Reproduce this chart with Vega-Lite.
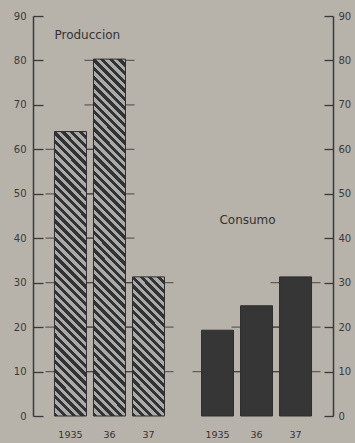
{
  "$schema": "https://vega.github.io/schema/vega-lite/v6.json",
  "width": 300,
  "height": 400,
  "autosize": "none",
  "padding": {"left": 33, "top": 16, "right": 22, "bottom": 27},
  "background": "#b7b2aa",
  "config": {"view": {"stroke": null}, "font": "DejaVu Sans"},
  "datasets": {
    "bars": [
      {"group": "Produccion", "year": "1935", "value": 64.0},
      {"group": "Produccion", "year": "36", "value": 80.3},
      {"group": "Produccion", "year": "37", "value": 31.3},
      {"group": "Consumo", "year": "1935", "value": 19.3},
      {"group": "Consumo", "year": "36", "value": 24.8},
      {"group": "Consumo", "year": "37", "value": 31.3}
    ],
    "grid": [
      {"group": "Produccion", "year": "1935", "level": 10},
      {"group": "Produccion", "year": "1935", "level": 20},
      {"group": "Produccion", "year": "1935", "level": 30},
      {"group": "Produccion", "year": "1935", "level": 40},
      {"group": "Produccion", "year": "1935", "level": 50},
      {"group": "Produccion", "year": "1935", "level": 60},
      {"group": "Produccion", "year": "36", "level": 10},
      {"group": "Produccion", "year": "36", "level": 20},
      {"group": "Produccion", "year": "36", "level": 30},
      {"group": "Produccion", "year": "36", "level": 40},
      {"group": "Produccion", "year": "36", "level": 50},
      {"group": "Produccion", "year": "36", "level": 60},
      {"group": "Produccion", "year": "36", "level": 70},
      {"group": "Produccion", "year": "36", "level": 80},
      {"group": "Produccion", "year": "37", "level": 10},
      {"group": "Produccion", "year": "37", "level": 20},
      {"group": "Produccion", "year": "37", "level": 30},
      {"group": "Consumo", "year": "1935", "level": 10},
      {"group": "Consumo", "year": "36", "level": 10},
      {"group": "Consumo", "year": "36", "level": 20},
      {"group": "Consumo", "year": "37", "level": 10},
      {"group": "Consumo", "year": "37", "level": 20},
      {"group": "Consumo", "year": "37", "level": 30}
    ],
    "names": [
      {"group": "Produccion", "year": "1935", "value": 85.8, "label": "Produccion"},
      {"group": "Consumo", "year": "36", "value": 44, "label": "Consumo"}
    ]
  },
  "encoding": {
    "x": {"field": "group", "type": "nominal", "sort": ["Produccion", "Consumo"],
      "scale": {"paddingInner": 0.2517, "paddingOuter": 0.146},
      "axis": null},
    "xOffset": {"field": "year", "type": "nominal", "sort": ["1935", "36", "37"],
      "scale": {"paddingInner": 0.18, "paddingOuter": 0}}
  },
  "layer": [
    {
      "data": {"name": "grid"},
      "mark": {"type": "tick", "size": 50, "thickness": 1.3, "color": "#3a3a3a"},
      "encoding": {
        "x": {"field": "group", "type": "nominal", "sort": ["Produccion", "Consumo"],
          "scale": {"paddingInner": 0.2517, "paddingOuter": 0.146},
          "axis": {"title": null, "labels": false, "ticks": false, "domainColor": "#3a3a3a", "domainWidth": 1.5}},
        "y": {"field": "level", "type": "quantitative",
          "scale": {"domain": [0, 90], "nice": false},
          "axis": {"orient": "left", "values": [0,10,20,30,40,50,60,70,80,90], "title": null, "grid": false,
            "tickSize": -10, "tickColor": "#3a3a3a", "tickWidth": 1.3,
            "domainColor": "#3a3a3a", "domainWidth": 1.5,
            "labelColor": "#3a3a3a", "labelFontSize": 10, "labelPadding": 17}}
      }
    },
    {
      "data": {"name": "bars"},
      "transform": [{"filter": "datum.group == 'Consumo'"}],
      "mark": {"type": "bar", "color": "#363636", "stroke": "#2e2e2e", "strokeWidth": 1},
      "encoding": {
        "y": {"field": "value", "type": "quantitative",
          "axis": {"orient": "right", "values": [0,10,20,30,40,50,60,70,80,90], "title": null, "grid": false,
            "tickSize": -9, "tickColor": "#3a3a3a", "tickWidth": 1.3,
            "domainColor": "#3a3a3a", "domainWidth": 1.5,
            "labelColor": "#3a3a3a", "labelFontSize": 10, "labelPadding": 14}}
      }
    },
    {
      "data": {"name": "bars"},
      "transform": [{"filter": "datum.group == 'Produccion' && datum.year == '1935'"}],
      "mark": {"type": "bar", "stroke": "#2e2e2e", "strokeWidth": 1,
        "fill": {"gradient": "linear", "x1": 0, "y1": 1, "x2": 0.124, "y2": -0.0989, "stops": [
          {"offset": 0, "color": "#333"},
          {"offset": 0.0139, "color": "#333"}, {"offset": 0.0139, "color": "#aaa"},
          {"offset": 0.0278, "color": "#aaa"}, {"offset": 0.0278, "color": "#333"},
          {"offset": 0.0417, "color": "#333"}, {"offset": 0.0417, "color": "#aaa"},
          {"offset": 0.0556, "color": "#aaa"}, {"offset": 0.0556, "color": "#333"},
          {"offset": 0.0694, "color": "#333"}, {"offset": 0.0694, "color": "#aaa"},
          {"offset": 0.0833, "color": "#aaa"}, {"offset": 0.0833, "color": "#333"},
          {"offset": 0.0972, "color": "#333"}, {"offset": 0.0972, "color": "#aaa"},
          {"offset": 0.1111, "color": "#aaa"}, {"offset": 0.1111, "color": "#333"},
          {"offset": 0.125, "color": "#333"}, {"offset": 0.125, "color": "#aaa"},
          {"offset": 0.1389, "color": "#aaa"}, {"offset": 0.1389, "color": "#333"},
          {"offset": 0.1528, "color": "#333"}, {"offset": 0.1528, "color": "#aaa"},
          {"offset": 0.1667, "color": "#aaa"}, {"offset": 0.1667, "color": "#333"},
          {"offset": 0.1806, "color": "#333"}, {"offset": 0.1806, "color": "#aaa"},
          {"offset": 0.1944, "color": "#aaa"}, {"offset": 0.1944, "color": "#333"},
          {"offset": 0.2083, "color": "#333"}, {"offset": 0.2083, "color": "#aaa"},
          {"offset": 0.2222, "color": "#aaa"}, {"offset": 0.2222, "color": "#333"},
          {"offset": 0.2361, "color": "#333"}, {"offset": 0.2361, "color": "#aaa"},
          {"offset": 0.25, "color": "#aaa"}, {"offset": 0.25, "color": "#333"},
          {"offset": 0.2639, "color": "#333"}, {"offset": 0.2639, "color": "#aaa"},
          {"offset": 0.2778, "color": "#aaa"}, {"offset": 0.2778, "color": "#333"},
          {"offset": 0.2917, "color": "#333"}, {"offset": 0.2917, "color": "#aaa"},
          {"offset": 0.3056, "color": "#aaa"}, {"offset": 0.3056, "color": "#333"},
          {"offset": 0.3194, "color": "#333"}, {"offset": 0.3194, "color": "#aaa"},
          {"offset": 0.3333, "color": "#aaa"}, {"offset": 0.3333, "color": "#333"},
          {"offset": 0.3472, "color": "#333"}, {"offset": 0.3472, "color": "#aaa"},
          {"offset": 0.3611, "color": "#aaa"}, {"offset": 0.3611, "color": "#333"},
          {"offset": 0.375, "color": "#333"}, {"offset": 0.375, "color": "#aaa"},
          {"offset": 0.3889, "color": "#aaa"}, {"offset": 0.3889, "color": "#333"},
          {"offset": 0.4028, "color": "#333"}, {"offset": 0.4028, "color": "#aaa"},
          {"offset": 0.4167, "color": "#aaa"}, {"offset": 0.4167, "color": "#333"},
          {"offset": 0.4306, "color": "#333"}, {"offset": 0.4306, "color": "#aaa"},
          {"offset": 0.4444, "color": "#aaa"}, {"offset": 0.4444, "color": "#333"},
          {"offset": 0.4583, "color": "#333"}, {"offset": 0.4583, "color": "#aaa"},
          {"offset": 0.4722, "color": "#aaa"}, {"offset": 0.4722, "color": "#333"},
          {"offset": 0.4861, "color": "#333"}, {"offset": 0.4861, "color": "#aaa"},
          {"offset": 0.5, "color": "#aaa"}, {"offset": 0.5, "color": "#333"},
          {"offset": 0.5139, "color": "#333"}, {"offset": 0.5139, "color": "#aaa"},
          {"offset": 0.5278, "color": "#aaa"}, {"offset": 0.5278, "color": "#333"},
          {"offset": 0.5417, "color": "#333"}, {"offset": 0.5417, "color": "#aaa"},
          {"offset": 0.5556, "color": "#aaa"}, {"offset": 0.5556, "color": "#333"},
          {"offset": 0.5694, "color": "#333"}, {"offset": 0.5694, "color": "#aaa"},
          {"offset": 0.5833, "color": "#aaa"}, {"offset": 0.5833, "color": "#333"},
          {"offset": 0.5972, "color": "#333"}, {"offset": 0.5972, "color": "#aaa"},
          {"offset": 0.6111, "color": "#aaa"}, {"offset": 0.6111, "color": "#333"},
          {"offset": 0.625, "color": "#333"}, {"offset": 0.625, "color": "#aaa"},
          {"offset": 0.6389, "color": "#aaa"}, {"offset": 0.6389, "color": "#333"},
          {"offset": 0.6528, "color": "#333"}, {"offset": 0.6528, "color": "#aaa"},
          {"offset": 0.6667, "color": "#aaa"}, {"offset": 0.6667, "color": "#333"},
          {"offset": 0.6806, "color": "#333"}, {"offset": 0.6806, "color": "#aaa"},
          {"offset": 0.6944, "color": "#aaa"}, {"offset": 0.6944, "color": "#333"},
          {"offset": 0.7083, "color": "#333"}, {"offset": 0.7083, "color": "#aaa"},
          {"offset": 0.7222, "color": "#aaa"}, {"offset": 0.7222, "color": "#333"},
          {"offset": 0.7361, "color": "#333"}, {"offset": 0.7361, "color": "#aaa"},
          {"offset": 0.75, "color": "#aaa"}, {"offset": 0.75, "color": "#333"},
          {"offset": 0.7639, "color": "#333"}, {"offset": 0.7639, "color": "#aaa"},
          {"offset": 0.7778, "color": "#aaa"}, {"offset": 0.7778, "color": "#333"},
          {"offset": 0.7917, "color": "#333"}, {"offset": 0.7917, "color": "#aaa"},
          {"offset": 0.8056, "color": "#aaa"}, {"offset": 0.8056, "color": "#333"},
          {"offset": 0.8194, "color": "#333"}, {"offset": 0.8194, "color": "#aaa"},
          {"offset": 0.8333, "color": "#aaa"}, {"offset": 0.8333, "color": "#333"},
          {"offset": 0.8472, "color": "#333"}, {"offset": 0.8472, "color": "#aaa"},
          {"offset": 0.8611, "color": "#aaa"}, {"offset": 0.8611, "color": "#333"},
          {"offset": 0.875, "color": "#333"}, {"offset": 0.875, "color": "#aaa"},
          {"offset": 0.8889, "color": "#aaa"}, {"offset": 0.8889, "color": "#333"},
          {"offset": 0.9028, "color": "#333"}, {"offset": 0.9028, "color": "#aaa"},
          {"offset": 0.9167, "color": "#aaa"}, {"offset": 0.9167, "color": "#333"},
          {"offset": 0.9306, "color": "#333"}, {"offset": 0.9306, "color": "#aaa"},
          {"offset": 0.9444, "color": "#aaa"}, {"offset": 0.9444, "color": "#333"},
          {"offset": 0.9583, "color": "#333"}, {"offset": 0.9583, "color": "#aaa"},
          {"offset": 0.9722, "color": "#aaa"}, {"offset": 0.9722, "color": "#333"},
          {"offset": 0.9861, "color": "#333"}, {"offset": 0.9861, "color": "#aaa"},
          {"offset": 1, "color": "#aaa"}
        ]}},
      "encoding": {"y": {"field": "value", "type": "quantitative", "axis": null}}
    },
    {
      "data": {"name": "bars"},
      "transform": [{"filter": "datum.group == 'Produccion' && datum.year == '36'"}],
      "mark": {"type": "bar", "stroke": "#2e2e2e", "strokeWidth": 1,
        "fill": {"gradient": "linear", "x1": 0, "y1": 1, "x2": 0.0972, "y2": -0.0812, "stops": [
          {"offset": 0, "color": "#333"},
          {"offset": 0.0111, "color": "#333"}, {"offset": 0.0111, "color": "#aaa"},
          {"offset": 0.0222, "color": "#aaa"}, {"offset": 0.0222, "color": "#333"},
          {"offset": 0.0333, "color": "#333"}, {"offset": 0.0333, "color": "#aaa"},
          {"offset": 0.0444, "color": "#aaa"}, {"offset": 0.0444, "color": "#333"},
          {"offset": 0.0556, "color": "#333"}, {"offset": 0.0556, "color": "#aaa"},
          {"offset": 0.0667, "color": "#aaa"}, {"offset": 0.0667, "color": "#333"},
          {"offset": 0.0778, "color": "#333"}, {"offset": 0.0778, "color": "#aaa"},
          {"offset": 0.0889, "color": "#aaa"}, {"offset": 0.0889, "color": "#333"},
          {"offset": 0.1, "color": "#333"}, {"offset": 0.1, "color": "#aaa"},
          {"offset": 0.1111, "color": "#aaa"}, {"offset": 0.1111, "color": "#333"},
          {"offset": 0.1222, "color": "#333"}, {"offset": 0.1222, "color": "#aaa"},
          {"offset": 0.1333, "color": "#aaa"}, {"offset": 0.1333, "color": "#333"},
          {"offset": 0.1444, "color": "#333"}, {"offset": 0.1444, "color": "#aaa"},
          {"offset": 0.1556, "color": "#aaa"}, {"offset": 0.1556, "color": "#333"},
          {"offset": 0.1667, "color": "#333"}, {"offset": 0.1667, "color": "#aaa"},
          {"offset": 0.1778, "color": "#aaa"}, {"offset": 0.1778, "color": "#333"},
          {"offset": 0.1889, "color": "#333"}, {"offset": 0.1889, "color": "#aaa"},
          {"offset": 0.2, "color": "#aaa"}, {"offset": 0.2, "color": "#333"},
          {"offset": 0.2111, "color": "#333"}, {"offset": 0.2111, "color": "#aaa"},
          {"offset": 0.2222, "color": "#aaa"}, {"offset": 0.2222, "color": "#333"},
          {"offset": 0.2333, "color": "#333"}, {"offset": 0.2333, "color": "#aaa"},
          {"offset": 0.2444, "color": "#aaa"}, {"offset": 0.2444, "color": "#333"},
          {"offset": 0.2556, "color": "#333"}, {"offset": 0.2556, "color": "#aaa"},
          {"offset": 0.2667, "color": "#aaa"}, {"offset": 0.2667, "color": "#333"},
          {"offset": 0.2778, "color": "#333"}, {"offset": 0.2778, "color": "#aaa"},
          {"offset": 0.2889, "color": "#aaa"}, {"offset": 0.2889, "color": "#333"},
          {"offset": 0.3, "color": "#333"}, {"offset": 0.3, "color": "#aaa"},
          {"offset": 0.3111, "color": "#aaa"}, {"offset": 0.3111, "color": "#333"},
          {"offset": 0.3222, "color": "#333"}, {"offset": 0.3222, "color": "#aaa"},
          {"offset": 0.3333, "color": "#aaa"}, {"offset": 0.3333, "color": "#333"},
          {"offset": 0.3444, "color": "#333"}, {"offset": 0.3444, "color": "#aaa"},
          {"offset": 0.3556, "color": "#aaa"}, {"offset": 0.3556, "color": "#333"},
          {"offset": 0.3667, "color": "#333"}, {"offset": 0.3667, "color": "#aaa"},
          {"offset": 0.3778, "color": "#aaa"}, {"offset": 0.3778, "color": "#333"},
          {"offset": 0.3889, "color": "#333"}, {"offset": 0.3889, "color": "#aaa"},
          {"offset": 0.4, "color": "#aaa"}, {"offset": 0.4, "color": "#333"},
          {"offset": 0.4111, "color": "#333"}, {"offset": 0.4111, "color": "#aaa"},
          {"offset": 0.4222, "color": "#aaa"}, {"offset": 0.4222, "color": "#333"},
          {"offset": 0.4333, "color": "#333"}, {"offset": 0.4333, "color": "#aaa"},
          {"offset": 0.4444, "color": "#aaa"}, {"offset": 0.4444, "color": "#333"},
          {"offset": 0.4556, "color": "#333"}, {"offset": 0.4556, "color": "#aaa"},
          {"offset": 0.4667, "color": "#aaa"}, {"offset": 0.4667, "color": "#333"},
          {"offset": 0.4778, "color": "#333"}, {"offset": 0.4778, "color": "#aaa"},
          {"offset": 0.4889, "color": "#aaa"}, {"offset": 0.4889, "color": "#333"},
          {"offset": 0.5, "color": "#333"}, {"offset": 0.5, "color": "#aaa"},
          {"offset": 0.5111, "color": "#aaa"}, {"offset": 0.5111, "color": "#333"},
          {"offset": 0.5222, "color": "#333"}, {"offset": 0.5222, "color": "#aaa"},
          {"offset": 0.5333, "color": "#aaa"}, {"offset": 0.5333, "color": "#333"},
          {"offset": 0.5444, "color": "#333"}, {"offset": 0.5444, "color": "#aaa"},
          {"offset": 0.5556, "color": "#aaa"}, {"offset": 0.5556, "color": "#333"},
          {"offset": 0.5667, "color": "#333"}, {"offset": 0.5667, "color": "#aaa"},
          {"offset": 0.5778, "color": "#aaa"}, {"offset": 0.5778, "color": "#333"},
          {"offset": 0.5889, "color": "#333"}, {"offset": 0.5889, "color": "#aaa"},
          {"offset": 0.6, "color": "#aaa"}, {"offset": 0.6, "color": "#333"},
          {"offset": 0.6111, "color": "#333"}, {"offset": 0.6111, "color": "#aaa"},
          {"offset": 0.6222, "color": "#aaa"}, {"offset": 0.6222, "color": "#333"},
          {"offset": 0.6333, "color": "#333"}, {"offset": 0.6333, "color": "#aaa"},
          {"offset": 0.6444, "color": "#aaa"}, {"offset": 0.6444, "color": "#333"},
          {"offset": 0.6556, "color": "#333"}, {"offset": 0.6556, "color": "#aaa"},
          {"offset": 0.6667, "color": "#aaa"}, {"offset": 0.6667, "color": "#333"},
          {"offset": 0.6778, "color": "#333"}, {"offset": 0.6778, "color": "#aaa"},
          {"offset": 0.6889, "color": "#aaa"}, {"offset": 0.6889, "color": "#333"},
          {"offset": 0.7, "color": "#333"}, {"offset": 0.7, "color": "#aaa"},
          {"offset": 0.7111, "color": "#aaa"}, {"offset": 0.7111, "color": "#333"},
          {"offset": 0.7222, "color": "#333"}, {"offset": 0.7222, "color": "#aaa"},
          {"offset": 0.7333, "color": "#aaa"}, {"offset": 0.7333, "color": "#333"},
          {"offset": 0.7444, "color": "#333"}, {"offset": 0.7444, "color": "#aaa"},
          {"offset": 0.7556, "color": "#aaa"}, {"offset": 0.7556, "color": "#333"},
          {"offset": 0.7667, "color": "#333"}, {"offset": 0.7667, "color": "#aaa"},
          {"offset": 0.7778, "color": "#aaa"}, {"offset": 0.7778, "color": "#333"},
          {"offset": 0.7889, "color": "#333"}, {"offset": 0.7889, "color": "#aaa"},
          {"offset": 0.8, "color": "#aaa"}, {"offset": 0.8, "color": "#333"},
          {"offset": 0.8111, "color": "#333"}, {"offset": 0.8111, "color": "#aaa"},
          {"offset": 0.8222, "color": "#aaa"}, {"offset": 0.8222, "color": "#333"},
          {"offset": 0.8333, "color": "#333"}, {"offset": 0.8333, "color": "#aaa"},
          {"offset": 0.8444, "color": "#aaa"}, {"offset": 0.8444, "color": "#333"},
          {"offset": 0.8556, "color": "#333"}, {"offset": 0.8556, "color": "#aaa"},
          {"offset": 0.8667, "color": "#aaa"}, {"offset": 0.8667, "color": "#333"},
          {"offset": 0.8778, "color": "#333"}, {"offset": 0.8778, "color": "#aaa"},
          {"offset": 0.8889, "color": "#aaa"}, {"offset": 0.8889, "color": "#333"},
          {"offset": 0.9, "color": "#333"}, {"offset": 0.9, "color": "#aaa"},
          {"offset": 0.9111, "color": "#aaa"}, {"offset": 0.9111, "color": "#333"},
          {"offset": 0.9222, "color": "#333"}, {"offset": 0.9222, "color": "#aaa"},
          {"offset": 0.9333, "color": "#aaa"}, {"offset": 0.9333, "color": "#333"},
          {"offset": 0.9444, "color": "#333"}, {"offset": 0.9444, "color": "#aaa"},
          {"offset": 0.9556, "color": "#aaa"}, {"offset": 0.9556, "color": "#333"},
          {"offset": 0.9667, "color": "#333"}, {"offset": 0.9667, "color": "#aaa"},
          {"offset": 0.9778, "color": "#aaa"}, {"offset": 0.9778, "color": "#333"},
          {"offset": 0.9889, "color": "#333"}, {"offset": 0.9889, "color": "#aaa"},
          {"offset": 1, "color": "#aaa"}
        ]}},
      "encoding": {"y": {"field": "value", "type": "quantitative", "axis": null}}
    },
    {
      "data": {"name": "bars"},
      "transform": [{"filter": "datum.group == 'Produccion' && datum.year == '37'"}],
      "mark": {"type": "bar", "stroke": "#2e2e2e", "strokeWidth": 1,
        "fill": {"gradient": "linear", "x1": 0, "y1": 1, "x2": 0.2697, "y2": -0.1686, "stops": [
          {"offset": 0, "color": "#333"},
          {"offset": 0.025, "color": "#333"}, {"offset": 0.025, "color": "#aaa"},
          {"offset": 0.05, "color": "#aaa"}, {"offset": 0.05, "color": "#333"},
          {"offset": 0.075, "color": "#333"}, {"offset": 0.075, "color": "#aaa"},
          {"offset": 0.1, "color": "#aaa"}, {"offset": 0.1, "color": "#333"},
          {"offset": 0.125, "color": "#333"}, {"offset": 0.125, "color": "#aaa"},
          {"offset": 0.15, "color": "#aaa"}, {"offset": 0.15, "color": "#333"},
          {"offset": 0.175, "color": "#333"}, {"offset": 0.175, "color": "#aaa"},
          {"offset": 0.2, "color": "#aaa"}, {"offset": 0.2, "color": "#333"},
          {"offset": 0.225, "color": "#333"}, {"offset": 0.225, "color": "#aaa"},
          {"offset": 0.25, "color": "#aaa"}, {"offset": 0.25, "color": "#333"},
          {"offset": 0.275, "color": "#333"}, {"offset": 0.275, "color": "#aaa"},
          {"offset": 0.3, "color": "#aaa"}, {"offset": 0.3, "color": "#333"},
          {"offset": 0.325, "color": "#333"}, {"offset": 0.325, "color": "#aaa"},
          {"offset": 0.35, "color": "#aaa"}, {"offset": 0.35, "color": "#333"},
          {"offset": 0.375, "color": "#333"}, {"offset": 0.375, "color": "#aaa"},
          {"offset": 0.4, "color": "#aaa"}, {"offset": 0.4, "color": "#333"},
          {"offset": 0.425, "color": "#333"}, {"offset": 0.425, "color": "#aaa"},
          {"offset": 0.45, "color": "#aaa"}, {"offset": 0.45, "color": "#333"},
          {"offset": 0.475, "color": "#333"}, {"offset": 0.475, "color": "#aaa"},
          {"offset": 0.5, "color": "#aaa"}, {"offset": 0.5, "color": "#333"},
          {"offset": 0.525, "color": "#333"}, {"offset": 0.525, "color": "#aaa"},
          {"offset": 0.55, "color": "#aaa"}, {"offset": 0.55, "color": "#333"},
          {"offset": 0.575, "color": "#333"}, {"offset": 0.575, "color": "#aaa"},
          {"offset": 0.6, "color": "#aaa"}, {"offset": 0.6, "color": "#333"},
          {"offset": 0.625, "color": "#333"}, {"offset": 0.625, "color": "#aaa"},
          {"offset": 0.65, "color": "#aaa"}, {"offset": 0.65, "color": "#333"},
          {"offset": 0.675, "color": "#333"}, {"offset": 0.675, "color": "#aaa"},
          {"offset": 0.7, "color": "#aaa"}, {"offset": 0.7, "color": "#333"},
          {"offset": 0.725, "color": "#333"}, {"offset": 0.725, "color": "#aaa"},
          {"offset": 0.75, "color": "#aaa"}, {"offset": 0.75, "color": "#333"},
          {"offset": 0.775, "color": "#333"}, {"offset": 0.775, "color": "#aaa"},
          {"offset": 0.8, "color": "#aaa"}, {"offset": 0.8, "color": "#333"},
          {"offset": 0.825, "color": "#333"}, {"offset": 0.825, "color": "#aaa"},
          {"offset": 0.85, "color": "#aaa"}, {"offset": 0.85, "color": "#333"},
          {"offset": 0.875, "color": "#333"}, {"offset": 0.875, "color": "#aaa"},
          {"offset": 0.9, "color": "#aaa"}, {"offset": 0.9, "color": "#333"},
          {"offset": 0.925, "color": "#333"}, {"offset": 0.925, "color": "#aaa"},
          {"offset": 0.95, "color": "#aaa"}, {"offset": 0.95, "color": "#333"},
          {"offset": 0.975, "color": "#333"}, {"offset": 0.975, "color": "#aaa"},
          {"offset": 1, "color": "#aaa"}
        ]}},
      "encoding": {"y": {"field": "value", "type": "quantitative", "axis": null}}
    },
    {
      "data": {"name": "bars"},
      "mark": {"type": "text", "fontSize": 9.5, "color": "#333333", "baseline": "middle", "dy": 19},
      "encoding": {
        "y": {"datum": 0, "type": "quantitative", "axis": null},
        "text": {"field": "year"}
      }
    },
    {
      "data": {"name": "names"},
      "transform": [{"filter": "datum.group == 'Produccion'"}],
      "mark": {"type": "text", "fontSize": 12, "color": "#333333", "align": "left", "baseline": "middle", "dx": -16},
      "encoding": {
        "y": {"field": "value", "type": "quantitative", "axis": null},
        "text": {"field": "label"}
      }
    },
    {
      "data": {"name": "names"},
      "transform": [{"filter": "datum.group == 'Consumo'"}],
      "mark": {"type": "text", "fontSize": 12, "color": "#333333", "align": "center", "baseline": "middle", "dx": -9},
      "encoding": {
        "y": {"field": "value", "type": "quantitative", "axis": null},
        "text": {"field": "label"}
      }
    }
  ],
  "resolve": {"axis": {"y": "independent"}}
}
